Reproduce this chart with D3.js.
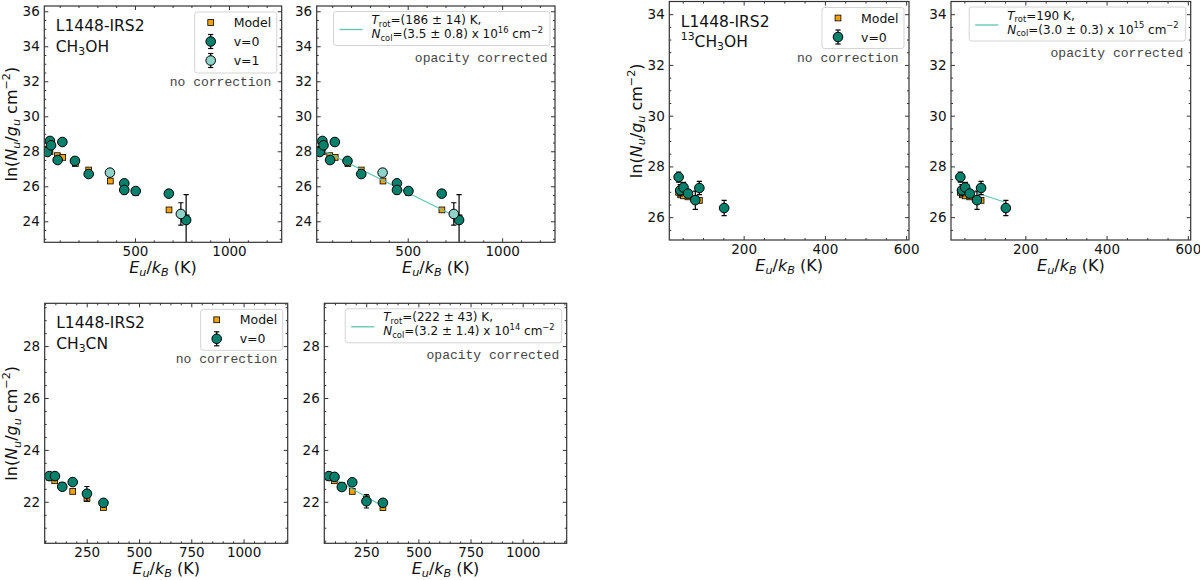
<!DOCTYPE html>
<html>
<head>
<meta charset="utf-8">
<script src="https://cdn.jsdelivr.net/npm/d3@7"></script>
<style>
  body { margin: 0; background: #fff; }
  svg text { fill: #111; }
</style>
</head>
<body>
<svg id="chart" width="1200" height="580" font-family="DejaVu Sans, sans-serif"></svg>
<script>
// ---- L1448-IRS2 CH3OH : Eu/kB (K) vs ln(Nu/gu) ----
const ch3ohEuV0  = [34, 48, 54, 89, 114, 181, 254, 443, 443, 504, 680, 772];
const ch3ohLnV0  = [27.96, 28.59, 28.34, 27.50, 28.53, 27.45, 26.70, 26.17, 25.79, 25.73, 25.58, 24.07];
const ch3ohErrV0 = [0.06, 0.06, 0.06, 0.06, 0.06, 0.06, 0.08, 0.12, 0.22, 0.10, 0.18, 1.45];
const ch3ohEuV1  = [367, 744];
const ch3ohLnV1  = [26.78, 24.42];
const ch3ohErrV1 = [0.12, 0.64];
const ch3ohModelEu = [34, 48, 87, 116, 183, 254, 369, 443, 504, 681, 744, 772];
const ch3ohModelLn = [28.10, 27.98, 27.75, 27.65, 27.30, 26.93, 26.30, 25.95, 25.65, 24.65, 24.40, 24.20];
const ch3ohFitEu = [22, 772];
const ch3ohFitLn = [28.20, 24.17];

// ---- L1448-IRS2 13CH3OH ----
const c13EuV0  = [40, 44, 52, 63, 81, 91, 152];
const c13LnV0  = [27.58, 27.06, 27.17, 26.93, 26.67, 27.15, 26.36];
const c13ErrV0 = [0.20, 0.22, 0.20, 0.16, 0.36, 0.26, 0.30];
const c13ModelEu = [40, 45, 52, 63, 81, 91];
const c13ModelLn = [26.98, 26.88, 26.84, 26.80, 26.72, 26.66];
const c13FitEu = [38, 152];
const c13FitLn = [27.18, 26.58];

// ---- L1448-IRS2 CH3CN ----
const cnEuV0      = [71, 98, 133, 183, 251, 330];
const cnLnV0      = [22.99, 22.99, 22.58, 22.76, 22.31, 21.96];
const cnErrV0     = [0.05, 0.05, 0.05, 0.08, 0.28, 0.12];
const cnLnV0Corr  = [22.99, 22.96, 22.57, 22.75, 22.02, 21.96];
const cnErrV0Corr = [0.05, 0.05, 0.05, 0.08, 0.26, 0.12];
const cnModelEu = [71, 97, 133, 183, 251, 330];
const cnModelLn = [22.95, 22.81, 22.62, 22.40, 22.12, 21.78];
const cnFitEu = [71, 330];
const cnFitLn = [23.00, 21.83];

// tick labels
const xTicksCH3OH = [500, 1000];
const yTicksCH3OH = [24, 26, 28, 30, 32, 34, 36];
const xTicks13C = [200, 400, 600];
const yTicks13C = [26, 28, 30, 32, 34];
const xTicksCN = [250, 500, 750, 1000];
const yTicksCN = [22, 24, 26, 28];

const colV0 = "#05806c", colV1 = "#8dd3c7", colModel = "#f5a200", colFit = "#5cc4b1";

const svg = d3.select("#chart");

// append text made of pieces: {t, i (italic), sub, sup}
function rich(sel, parts, size){
    let shift = 0;
    parts.forEach(p=>{
        const ts = sel.append("tspan").text(p.t);
        let target = 0;
        if (p.sub) target = 0.22*size;
        if (p.sup) target = -0.42*size;
        ts.attr("dy", target - shift);
        shift = target;
        if (p.sub || p.sup) ts.attr("font-size", size*0.7);
        if (p.i) ts.attr("font-style","italic");
    });
    return sel;
}

const zip = (a,b,c)=>a.map((v,i)=>({e:v, v:b[i], err:c?c[i]:0}));

function drawSquares(g, x, y, pts){
    const s = 5.8;
    g.selectAll(null).data(pts).join("rect")
        .attr("x", d=>x(d.e)-s/2).attr("y", d=>y(d.v)-s/2)
        .attr("width", s).attr("height", s)
        .attr("fill", colModel).attr("stroke","#000").attr("stroke-width",0.8);
}

function drawErrCircles(g, x, y, pts, color){
    const eb = g.selectAll(null).data(pts).join("g");
    eb.append("line")
        .attr("x1", d=>x(d.e)).attr("x2", d=>x(d.e))
        .attr("y1", d=>y(d.v-d.err)).attr("y2", d=>y(d.v+d.err))
        .attr("stroke","#000").attr("stroke-width",1.2);
    [-1,1].forEach(k=>{
        eb.append("line")
            .attr("x1", d=>x(d.e)-2.6).attr("x2", d=>x(d.e)+2.6)
            .attr("y1", d=>y(d.v+k*d.err)).attr("y2", d=>y(d.v+k*d.err))
            .attr("stroke","#000").attr("stroke-width",1.2);
    });
    g.selectAll(null).data(pts).join("circle")
        .attr("cx", d=>x(d.e)).attr("cy", d=>y(d.v)).attr("r", 4.8)
        .attr("fill", color).attr("stroke","#000").attr("stroke-width",1);
}

function legendMarker(g, cx, cy, type, color){
    if (type==="square"){
        g.append("rect").attr("x",cx-2.9).attr("y",cy-2.9).attr("width",5.8).attr("height",5.8)
            .attr("fill",colModel).attr("stroke","#000").attr("stroke-width",0.8);
    } else {
        g.append("line").attr("x1",cx).attr("x2",cx).attr("y1",cy-7).attr("y2",cy+7)
            .attr("stroke","#000").attr("stroke-width",1.2);
        [-7,7].forEach(o=>g.append("line").attr("x1",cx-2.6).attr("x2",cx+2.6)
            .attr("y1",cy+o).attr("y2",cy+o).attr("stroke","#000").attr("stroke-width",1.2));
        g.append("circle").attr("cx",cx).attr("cy",cy).attr("r",4.8)
            .attr("fill",color).attr("stroke","#000").attr("stroke-width",1);
    }
}

function drawPanel(cfg){
    const [x0,y0,x1,y1] = cfg.box;
    const w = x1-x0, h = y1-y0;
    const g = svg.append("g").attr("transform",`translate(${x0},${y0})`);
    const x = d3.scaleLinear().domain(cfg.xDomain).range([0,w]);
    const y = d3.scaleLinear().domain(cfg.yDomain).range([h,0]);

    // axes, ticks pointing inwards on all four sides
    const xMinor = d3.range(Math.ceil(cfg.xDomain[0]/cfg.xMinor)*cfg.xMinor, cfg.xDomain[1], cfg.xMinor)
        .filter(v=>!cfg.xTicks.includes(v));
    const yMinor = d3.range(Math.ceil(cfg.yDomain[0]/cfg.yMinor)*cfg.yMinor, cfg.yDomain[1], cfg.yMinor)
        .filter(v=>!cfg.yTicks.includes(v));
    const axes = [
        [d3.axisBottom(x), cfg.xTicks, xMinor, `translate(0,${h})`, true],
        [d3.axisTop(x), cfg.xTicks, xMinor, "translate(0,0)", false],
        [d3.axisLeft(y), cfg.yTicks, yMinor, "translate(0,0)", true],
        [d3.axisRight(y), cfg.yTicks, yMinor, `translate(${w},0)`, false]
    ];
    axes.forEach(([ax, major, minor, tr, lab])=>{
        const ag = g.append("g").attr("transform",tr)
            .call(ax.tickValues(major).tickSize(-4).tickPadding(lab?4.5:0)
                .tickFormat(lab ? d3.format("d") : ""));
        ag.attr("font-family", null).attr("font-size", null);
        ag.select(".domain").remove();
        ag.selectAll("line").attr("stroke","#333");
        ag.selectAll("text").attr("font-size",13.5).attr("fill","#111");
        const mg = g.append("g").attr("transform",tr)
            .call(ax.tickValues(minor).tickSize(-2).tickFormat(""));
        mg.select(".domain").remove();
        mg.selectAll("line").attr("stroke","#333");
    });

    // plotting area
    const clipId = "clip"+cfg.id;
    g.append("clipPath").attr("id",clipId).append("rect").attr("width",w).attr("height",h);
    const plot = g.append("g").attr("clip-path",`url(#${clipId})`);

    drawSquares(plot, x, y, zip(cfg.modelEu, cfg.modelLn));
    if (cfg.fitEu){
        plot.append("path")
            .datum(zip(cfg.fitEu, cfg.fitLn))
            .attr("d", d3.line().x(d=>x(d.e)).y(d=>y(d.v)))
            .attr("fill","none").attr("stroke",colFit).attr("stroke-width",1.1);
    }
    drawErrCircles(plot, x, y, zip(cfg.euV0, cfg.lnV0, cfg.errV0), colV0);
    if (cfg.euV1) drawErrCircles(plot, x, y, zip(cfg.euV1, cfg.lnV1, cfg.errV1), colV1);

    g.append("rect").attr("width",w).attr("height",h)
        .attr("fill","none").attr("stroke","#333").attr("stroke-width",1.2);

    // axis labels
    rich(g.append("text").attr("x",w/2).attr("y",h+30.5).attr("text-anchor","middle").attr("font-size",16),
        [{t:"E",i:1},{t:"u",i:1,sub:1},{t:"/"},{t:"k",i:1},{t:"B",i:1,sub:1},{t:" (K)"}], 16);
    if (cfg.ylabel){
        rich(g.append("text").attr("transform",`translate(-27.5,${h/2}) rotate(-90)`)
            .attr("text-anchor","middle").attr("font-size",16),
            [{t:"ln("},{t:"N",i:1},{t:"u",i:1,sub:1},{t:"/"},{t:"g",i:1},{t:"u",i:1,sub:1},
             {t:" cm"},{t:"\u22122",sup:1},{t:")"}], 16);
    }

    if (cfg.title){
        g.append("text").attr("x",11.5).attr("y",25).attr("font-size",15.5).text("L1448-IRS2");
        rich(g.append("text").attr("x",11.5).attr("y",45.5).attr("font-size",15.5), cfg.title, 15.5);
    }

    // legend
    const lg = g.append("g");
    let legBottom;
    if (cfg.legend === "points"){
        const rows = [["square","Model",null],["circle","v=0",colV0]];
        if (cfg.euV1) rows.push(["circle","v=1",colV1]);
        const bw = 82, bh = rows.length===3 ? 61 : 41;
        const bx = w - 5 - bw, by = 6;
        lg.append("rect").attr("x",bx).attr("y",by).attr("width",bw).attr("height",bh).attr("rx",2.5)
            .attr("fill","#fff").attr("fill-opacity",0.85).attr("stroke","#d4d4d4");
        rows.forEach((r,i)=>{
            const cy = by + 10.5 + i*19;
            legendMarker(lg, bx+16, cy, r[0], r[2]);
            lg.append("text").attr("x",bx+39).attr("y",cy).attr("dy","0.36em")
                .attr("font-size",12.5).text(r[1]);
        });
        legBottom = by + bh;
    } else {
        const by = 5.5, bh = 34;
        const box = lg.append("rect").attr("y",by).attr("height",bh).attr("rx",2.5)
            .attr("fill","#fff").attr("fill-opacity",0.85).attr("stroke","#d4d4d4");
        const tg = lg.append("g");
        const t1 = rich(tg.append("text").attr("y",by+12.5).attr("font-size",12), cfg.fitText[0], 12);
        const t2 = rich(tg.append("text").attr("y",by+26.5).attr("font-size",12), cfg.fitText[1], 12);
        const tw = Math.max(t1.node().getComputedTextLength(), t2.node().getComputedTextLength());
        const bw = tw + 45;
        const bx = w - 5 - bw;
        box.attr("x",bx).attr("width",bw);
        tg.selectAll("text").attr("x",bx+38);
        lg.append("line").attr("x1",bx+6).attr("x2",bx+29).attr("y1",by+bh/2+1).attr("y2",by+bh/2+1)
            .attr("stroke",colFit).attr("stroke-width",1.3);
        legBottom = by + bh;
    }
    g.append("text").attr("x", w - (cfg.legend==="points" ? 10.5 : 7.5))
        .attr("y", legBottom + (cfg.legend==="points" ? 13 : 16))
        .attr("text-anchor","end")
        .attr("font-family","'Liberation Mono', 'DejaVu Sans Mono', monospace")
        .attr("font-size",13).style("fill","#444")
        .text(cfg.note);
}

const titleCH3OH = [{t:"CH"},{t:"3",sub:1},{t:"OH"}];
const title13C = [{t:"13",sup:1},{t:"CH"},{t:"3",sub:1},{t:"OH"}];
const titleCN = [{t:"CH"},{t:"3",sub:1},{t:"CN"}];

function fitText(trot, ncol, pow){
    return [
        [{t:"T",i:1},{t:"rot",sub:1},{t:"="+trot}],
        [{t:"N",i:1},{t:"col",sub:1},{t:"="+ncol+" x 10"},{t:pow,sup:1},{t:" cm"},{t:"\u22122",sup:1}]
    ];
}

const chCfg = {xDomain:[18,1280], yDomain:[22.8,36.3], xTicks:xTicksCH3OH, yTicks:yTicksCH3OH, xMinor:100, yMinor:0.5,
    euV0:ch3ohEuV0, lnV0:ch3ohLnV0, errV0:ch3ohErrV0, euV1:ch3ohEuV1, lnV1:ch3ohLnV1, errV1:ch3ohErrV1,
    modelEu:ch3ohModelEu, modelLn:ch3ohModelLn};
const c13Cfg = {xDomain:[17,607], yDomain:[25.1,34.5], xTicks:xTicks13C, yTicks:yTicks13C, xMinor:50, yMinor:0.5,
    euV0:c13EuV0, lnV0:c13LnV0, errV0:c13ErrV0, modelEu:c13ModelEu, modelLn:c13ModelLn};
const cnCfg = {xDomain:[49,1211], yDomain:[20.4,29.65], xTicks:xTicksCN, yTicks:yTicksCN, xMinor:50, yMinor:0.5,
    modelEu:cnModelEu, modelLn:cnModelLn, euV0:cnEuV0};

drawPanel(Object.assign({}, chCfg, {id:1, box:[44.3,6,281.7,242.3], ylabel:true, title:titleCH3OH,
    legend:"points", note:"no correction"}));
drawPanel(Object.assign({}, chCfg, {id:2, box:[316.7,6,555,242.3], legend:"fit", note:"opacity corrected",
    fitEu:ch3ohFitEu, fitLn:ch3ohFitLn, fitText:fitText("(186 \u00b1 14) K,","(3.5 \u00b1 0.8)","16")}));
drawPanel(Object.assign({}, c13Cfg, {id:3, box:[669.3,1.5,909,240], ylabel:true, title:title13C,
    legend:"points", note:"no correction"}));
drawPanel(Object.assign({}, c13Cfg, {id:4, box:[951,1.5,1190.7,240], legend:"fit", note:"opacity corrected",
    fitEu:c13FitEu, fitLn:c13FitLn, fitText:fitText("190 K,","(3.0 \u00b1 0.3)","15")}));
drawPanel(Object.assign({}, cnCfg, {id:5, box:[44.7,303.3,287.7,543.3], ylabel:true, title:titleCN,
    lnV0:cnLnV0, errV0:cnErrV0, legend:"points", note:"no correction"}));
drawPanel(Object.assign({}, cnCfg, {id:6, box:[324.3,303.3,566.7,543.3], lnV0:cnLnV0Corr, errV0:cnErrV0Corr,
    legend:"fit", note:"opacity corrected",
    fitEu:cnFitEu, fitLn:cnFitLn, fitText:fitText("(222 \u00b1 43) K,","(3.2 \u00b1 1.4)","14")}));
</script>
</body>
</html>
